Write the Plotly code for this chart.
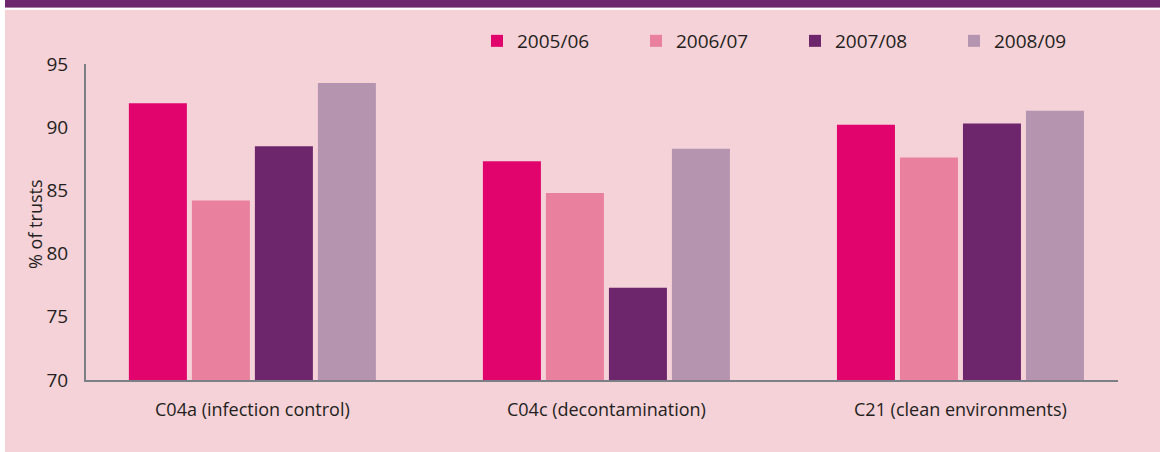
import plotly.graph_objects as go

categories = ["C04a (infection control)", "C04c (decontamination)", "C21 (clean environments)"]
years = ["2005/06", "2006/07", "2007/08", "2008/09"]
v_2005_06 = [91.9, 87.3, 90.2]
v_2006_07 = [84.2, 84.8, 87.6]
v_2007_08 = [88.5, 77.3, 90.3]
v_2008_09 = [93.5, 88.3, 91.3]
series = [v_2005_06, v_2006_07, v_2007_08, v_2008_09]
colors = ["#E0046C", "#E9809D", "#6D266C", "#B594AF"]
y_ticks = [70, 75, 80, 85, 90, 95]

W, H = 1160, 452
L, R, T, B = 86, 42, 64, 72
pw, ph = W - L - R, H - T - B

def px_x(p):
    return (p - L) / pw

def px_y(p):
    return (H - B - p) / ph

FONT = "Open Sans"
TXT = "#231F20"
BG = "#F5D1D8"
AX = "#7A8085"

fig = go.Figure()
for name, vals, col in zip(years, series, colors):
    fig.add_trace(go.Bar(x=categories, y=vals, name=name, marker=dict(color=col, line=dict(width=0))))

shapes = [
    dict(type="rect", xref="paper", yref="paper", x0=px_x(-2), x1=px_x(5), y0=px_y(-2), y1=px_y(H + 2),
         fillcolor="white", line=dict(width=0), layer="below"),
    dict(type="rect", xref="paper", yref="paper", x0=px_x(5), x1=px_x(W + 2), y0=px_y(-2), y1=px_y(7.7),
         fillcolor="#6D266C", line=dict(width=0), layer="below"),
    dict(type="rect", xref="paper", yref="paper", x0=px_x(5), x1=px_x(W + 2), y0=px_y(7.7), y1=px_y(9.7),
         fillcolor="white", line=dict(width=0), layer="below"),
]

fig.update_layout(
    width=W, height=H,
    margin=dict(l=L, r=R, t=T, b=B, pad=0),
    paper_bgcolor=BG, plot_bgcolor=BG,
    barmode="group", bargap=1 - 252 / 354, bargroupgap=5 / 63,
    font=dict(family=FONT, color=TXT, size=18),
    showlegend=True,
    legend=dict(orientation="h", x=px_x(477), y=px_y(41), xanchor="left", yanchor="middle",
                entrywidth=114, entrywidthmode="pixels", bgcolor="rgba(0,0,0,0)",
                font=dict(family=FONT, size=19, color=TXT), traceorder="normal"),
    shapes=shapes,
    annotations=[dict(text="% of trusts", xref="paper", yref="paper", x=px_x(35), y=px_y(224),
                      textangle=-90, showarrow=False, xanchor="center", yanchor="middle",
                      font=dict(family=FONT, size=18, color=TXT))],
)
fig.update_xaxes(range=[-0.47, 2.445], showline=True, linecolor=AX, linewidth=2, showgrid=False,
                 ticks="", ticklabelstandoff=12, tickfont=dict(family=FONT, size=18, color=TXT), zeroline=False)
fig.update_yaxes(range=[70, 95], tickvals=y_ticks, showline=True, linecolor=AX, linewidth=2, showgrid=False,
                 ticks="", ticklabelstandoff=12, tickfont=dict(family=FONT, size=19, color=TXT), zeroline=False)

fig.write_html("out.html", config={"displayModeBar": False},
               post_script="document.body.style.margin='0';")
